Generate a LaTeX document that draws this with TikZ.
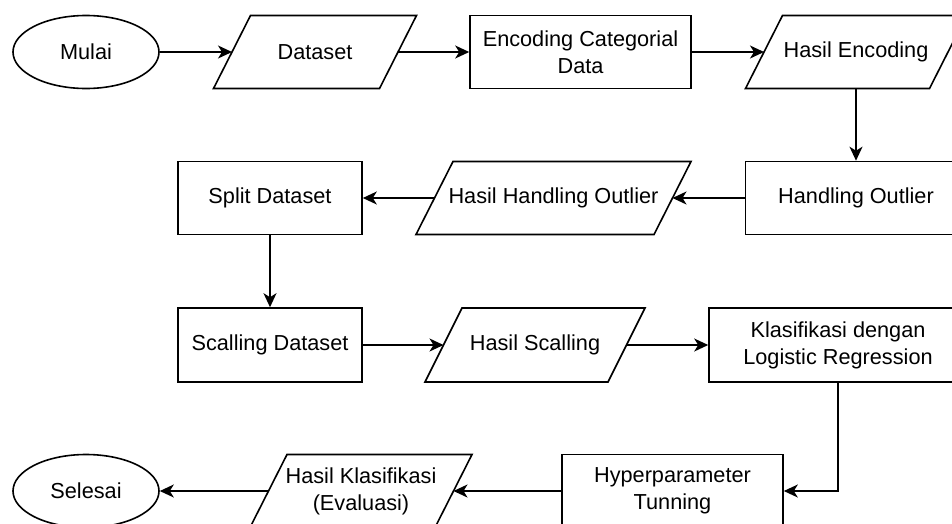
\documentclass[tikz,border=0pt]{standalone}
\usepackage{fontspec}
\setmainfont{Liberation Sans}
\usetikzlibrary{arrows.meta,calc,shapes.geometric}

\begin{document}
\begin{tikzpicture}[x=1pt, y=-1pt, line width=1.6pt,
    >={Stealth[length=14pt,width=13pt,inset=4pt]},
    font=\fontsize{21.7}{27}\selectfont,
    terminal/.style={draw, ellipse, minimum width=146pt, minimum height=73pt, inner sep=0pt},
    proses/.style={draw, rectangle, minimum height=73pt, align=center, inner sep=2pt},
    data/.style={rectangle, minimum height=73pt, align=center, inner sep=2pt, outer sep=0pt}]
    \useasboundingbox (0,0) rectangle (952,523);

    % Baris 1
    \node[terminal] (mulai) at (86,52) {Mulai};
    \node[data, minimum width=166pt] (dataset) at (315,52) {Dataset};
    \node[proses, minimum width=221pt] (encoding) at (580.5,52) {Encoding Categorial\\Data};
    \node[data, minimum width=184pt] (hasilenc) at (856,52) {Hasil Encoding};

    % Baris 2
    \node[proses, minimum width=221pt] (handling) at (856,198) {Handling Outlier};
    \node[data, minimum width=238pt] (hasilho) at (553.5,198) {Hasil Handling Outlier};
    \node[proses, minimum width=184pt] (split) at (270,198) {Split Dataset};

    % Baris 3
    \node[proses, minimum width=184pt, minimum height=74pt] (scalling) at (270,345) {Scalling Dataset};
    \node[data, minimum width=183pt, minimum height=74pt] (hasilsc) at (535,345) {Hasil Scalling};
    \node[proses, minimum width=258pt, minimum height=74pt] (klasifikasi) at (838,345) {Klasifikasi dengan\\Logistic Regression};

    % Baris 4
    \node[proses, minimum width=221pt] (hyper) at (672.5,491) {Hyperparameter\\Tunning};
    \node[data, minimum width=185pt] (hasilkl) at (361,491) {Hasil Klasifikasi\\(Evaluasi)};
    \node[terminal] (selesai) at (86,491) {Selesai};

    % Jajar genjang untuk data
    \foreach \n in {dataset, hasilenc, hasilho, hasilsc, hasilkl}
        \draw ($(\n.south west)+(-18.5,0)$) -- ($(\n.south east)+(-18.5,0)$)
            -- ($(\n.north east)+(18.5,0)$) -- ($(\n.north west)+(18.5,0)$) -- cycle;

    % Alur
    \draw[->] (mulai) -- (dataset);
    \draw[->] (dataset) -- (encoding);
    \draw[->] (encoding) -- (hasilenc);
    \draw[->] (hasilenc) -- (handling);
    \draw[->] (handling) -- (hasilho);
    \draw[->] (hasilho) -- (split);
    \draw[->] (split) -- (scalling);
    \draw[->] (scalling) -- (hasilsc);
    \draw[->] (hasilsc) -- (klasifikasi);
    \draw[->] (klasifikasi) |- (hyper);
    \draw[->] (hyper) -- (hasilkl);
    \draw[->] (hasilkl) -- (selesai);
\end{tikzpicture}
\end{document}
